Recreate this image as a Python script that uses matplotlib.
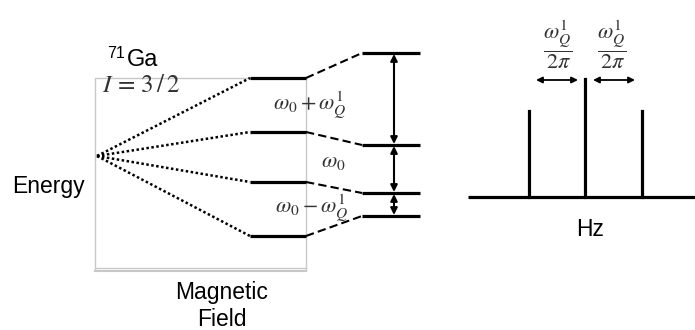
import matplotlib.pyplot as plt

# energy levels (diagram units, y grows downward)
origin = (97, 156)
zeeman_y = [78, 132, 182, 236]       # Zeeman levels only
quad_y = [53, 145, 193, 216]         # with first order quadrupole shift
zeeman_x = (250, 306)
quad_x = (362, 420)

# spectrum
baseline_y = 197
spec_x = (468, 695)
peak_x = [529, 585, 642]
peak_top = [111, 79, 111]

plt.rcParams['mathtext.fontset'] = 'stix'
plt.rcParams['font.family'] = ['Liberation Sans', 'DejaVu Sans']

fig = plt.figure(figsize=(6.95, 3.3), dpi=100)
ax = fig.add_axes([0, 0, 1, 1])
ax.set_xlim(0, 695)
ax.set_ylim(330, 0)
ax.axis('off')

# gray frame
gray = '#c8c8c8'
ax.plot([95, 95, 306, 306], [270, 78, 78, 270], color=gray, lw=1)
ax.plot([95, 306], [268, 268], color=gray, lw=1)
ax.plot([95, 306], [271, 271], color=gray, lw=1.5)

# dotted lines from degenerate point to Zeeman levels
for y in zeeman_y:
    ax.plot([origin[0], zeeman_x[0]], [origin[1], y], color='black', lw=1.8,
            linestyle=(0, (1, 1)))
    ax.plot(zeeman_x, [y, y], color='black', lw=2.3, solid_capstyle='butt')

# dashed connectors to shifted levels
for y1, y2 in zip(zeeman_y, quad_y):
    ax.plot([zeeman_x[1], quad_x[0]], [y1, y2], color='black', lw=1.5,
            linestyle=(0, (4, 2)))
    ax.plot(quad_x, [y2, y2], color='black', lw=2.3, solid_capstyle='butt')

# transition arrows
arrow_x = 394
for ya, yb in zip(quad_y[:-1], quad_y[1:]):
    ax.annotate('', xy=(arrow_x, ya + 1), xytext=(arrow_x, yb - 1),
                arrowprops=dict(arrowstyle='<|-|>', color='black', lw=1.5,
                                mutation_scale=10, shrinkA=0, shrinkB=0))

ax.text(310, 105, r'$\omega_0+\omega_Q^1$', fontsize=16, ha='center', va='center', color='#333333')
ax.text(333, 162, r'$\omega_0$', fontsize=16, ha='center', va='center', color='#333333')
ax.text(312, 208, r'$\omega_0-\omega_Q^1$', fontsize=16, ha='center', va='center', color='#333333')

ax.text(107, 53, '71', fontsize=11.5, ha='left', va='center')
ax.text(127, 60, 'Ga', fontsize=17, ha='left', va='center')
ax.text(102, 85, r'$I\,=\,3\,/\,2$', fontsize=18, ha='left', va='center', color='#333333')
ax.text(12, 187, 'Energy', fontsize=16.5, ha='left', va='center')
ax.text(222, 293, 'Magnetic', fontsize=16.5, ha='center', va='center')
ax.text(222, 320, 'Field', fontsize=16.5, ha='center', va='center')

# spectrum
ax.plot(spec_x, [baseline_y, baseline_y], color='black', lw=2.3, solid_capstyle='butt')
for x, top in zip(peak_x, peak_top):
    ax.plot([x, x], [baseline_y, top], color='black', lw=2.3)

for x0, x1 in [(536, 578), (593, 635)]:
    ax.annotate('', xy=(x0, 80), xytext=(x1, 80),
                arrowprops=dict(arrowstyle='<|-|>', color='black', lw=1.3,
                                mutation_scale=9, shrinkA=0, shrinkB=0))

for cx in [558, 612]:
    ax.text(cx, 45, r'$\dfrac{\omega_Q^1}{2\pi}$', fontsize=16, ha='center', va='center', color='#333333')

ax.text(590, 230, 'Hz', fontsize=16.5, ha='center', va='center')

fig.savefig('out.png', dpi=100)
